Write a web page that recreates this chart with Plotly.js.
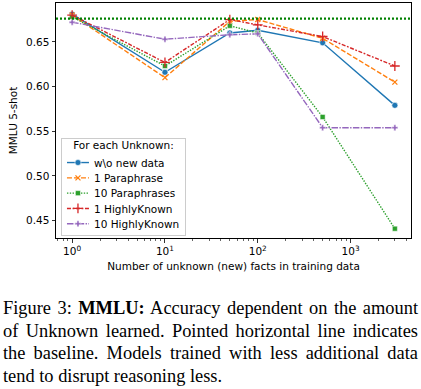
<!DOCTYPE html>
<html>
<head>
<meta charset="utf-8">
<script src="https://cdn.plot.ly/plotly-3.0.1.min.js"></script>
<style>
  html, body { margin: 0; padding: 0; background: #fff; }
  #wrap { position: relative; width: 421px; height: 389px; overflow: hidden; }
  #chart { position: absolute; left: 0; top: 0; width: 421px; height: 285px; }
  #caption { position: absolute; left: 3px; top: 297px; width: 415px;
    font-family: "Liberation Serif", "Times New Roman", serif; font-size: 18.4px;
    line-height: 22.5px; color: #000; }
  #caption div { text-align: justify; text-align-last: justify; white-space: nowrap; }
  #caption div.last { text-align: left; text-align-last: left; }
</style>
</head>
<body>
<div id="wrap">
  <div id="chart"></div>
  <div id="caption">
    <div>Figure 3: <b>MMLU:</b> Accuracy dependent on the amount</div>
    <div>of Unknown learned. Pointed horizontal line indicates</div>
    <div>the baseline. Models trained with less additional data</div>
    <div class="last">tend to disrupt reasoning less.</div>
  </div>
</div>
<script>
// ---- data ----
const unknownCounts = [1, 10, 50, 100, 500, 3000];
const seriesNames = ["w\\o new data", "1 Paraphrase", "10 Paraphrases", "1 HighlyKnown", "10 HighlyKnown"];
const woNewData      = [0.681, 0.616, 0.660, 0.663, 0.649, 0.579];
const oneParaphrase  = [0.680, 0.610, 0.673, 0.675, 0.654, 0.605];
const tenParaphrases = [0.678, 0.623, 0.668, 0.660, 0.566, 0.441];
const oneHighlyKnown = [0.680, 0.627, 0.675, 0.669, 0.656, 0.623];
const tenHighlyKnown = [0.672, 0.653, 0.658, 0.659, 0.554, 0.554];
const baselineMMLU = 0.676;
const legendTitle = "For each Unknown:";
const xTitle = "Number of unknown (new) facts in training data";
const yTitle = "MMLU 5-shot";
const xTickVals = [1, 10, 100, 1000];
const xTickText = ["10<sup>0</sup>", "10<sup>1</sup>", "10<sup>2</sup>", "10<sup>3</sup>"];
const yTickVals = [0.45, 0.50, 0.55, 0.60, 0.65];

// ---- styles ----
const colors = ["#1f77b4", "#ff7f0e", "#2ca02c", "#d62728", "#9467bd"];
const dashes = ["solid", "5px,2px", "1.4px,1.4px", "4px,1.6px,1.8px,1.6px", "6.5px,1.4px,1.4px,1.4px"];
const values = [woNewData, oneParaphrase, tenParaphrases, oneHighlyKnown, tenHighlyKnown];
const markers = [
  {symbol: "circle", size: 6, color: colors[0], line: {color: "#fff", width: 0.6}},
  {symbol: "x-thin", size: 5, color: colors[1], line: {color: colors[1], width: 1.3}},
  {symbol: "square", size: 5, color: colors[2], line: {color: "#fff", width: 0.5}},
  {symbol: "cross-thin", size: 7, color: colors[3], line: {color: colors[3], width: 1.3}},
  {symbol: "cross", size: 5, color: colors[4], line: {color: "#fff", width: 0.5}}
];

const traces = values.map((v, i) => ({
  x: unknownCounts, y: v, name: seriesNames[i], type: "scatter", mode: "lines+markers",
  line: {color: colors[i], width: 1.4, dash: dashes[i]},
  marker: markers[i]
}));

const minorVals = [];
for (let e = -1; e <= 3; e++) for (let m = 2; m <= 9; m++) minorVals.push(m * Math.pow(10, e));

const fontAx = {family: "DejaVu Sans", size: 10.5, color: "#000"};
const layout = {
  width: 421, height: 285,
  margin: {l: 56, r: 10, t: 3, b: 47},
  paper_bgcolor: "#fff", plot_bgcolor: "#fff",
  showlegend: true,
  font: fontAx,
  xaxis: {
    type: "log", range: [-0.174, 3.651], automargin: false,
    tickvals: xTickVals, ticktext: xTickText, ticks: "outside", ticklen: 3.5, tickwidth: 0.8, tickcolor: "#000",
    showline: true, linecolor: "#000", linewidth: 1, mirror: true, showgrid: false, zeroline: false,
    minor: {tickvals: minorVals, ticks: "outside", ticklen: 2, tickwidth: 0.6, tickcolor: "#000", showgrid: false},
    tickfont: fontAx,
    title: {text: xTitle, font: fontAx, standoff: 6}
  },
  yaxis: {
    range: [0.4306, 0.6935], automargin: false,
    tickvals: yTickVals, tickformat: ".2f", ticks: "outside", ticklen: 3.5, tickwidth: 0.8, tickcolor: "#000",
    showline: true, linecolor: "#000", linewidth: 1, mirror: true, showgrid: false, zeroline: false,
    tickfont: fontAx,
    title: {text: yTitle, font: fontAx, standoff: 6}
  },
  legend: {
    x: 0.014, y: 0.023, xanchor: "left", yanchor: "bottom",
    bgcolor: "rgba(255,255,255,0.8)", bordercolor: "#cccccc", borderwidth: 1,
    font: fontAx, tracegroupgap: 0, itemwidth: 30,
    title: {text: legendTitle, side: "top center", font: fontAx}
  },
  shapes: [{
    type: "line", xref: "paper", x0: 0, x1: 1, yref: "y", y0: baselineMMLU, y1: baselineMMLU,
    line: {color: "#008000", width: 2.2, dash: "2px,2px"}, layer: "above"
  }]
};

function getT(el) {
  const t = el.getAttribute("transform") || "";
  const m = t.match(/translate\(\s*([-\d.e]+)[ ,]+([-\d.e]+)\s*\)/);
  return m ? {x: parseFloat(m[1]), y: parseFloat(m[2])} : null;
}

// tighten the legend to matplotlib-like spacing
function compactLegend() {
  const leg = document.querySelector("#chart g.legend");
  if (!leg) return;
  const items = Array.from(leg.querySelectorAll("g.traces"));
  if (items.length < 2) return;
  const pos = items.map(getT);
  if (pos.some(p => !p)) return;
  const oldStep = pos[1].y - pos[0].y;
  const step = 15.3, lift = 4, shrinkW = 8;
  const moveDown = 7.7, extraShrinkH = 4, titleRel = -3.7, itemsRel = -0.7;
  const startY = pos[0].y - lift + itemsRel;
  items.forEach((g, i) => {
    g.setAttribute("transform", `translate(${pos[i].x},${startY + i * step})`);
    const txt = g.querySelector("text.legendtext");
    if (txt && txt.getAttribute("x")) txt.setAttribute("x", parseFloat(txt.getAttribute("x")) - shrinkW);
    g.querySelectorAll(".legendlines path").forEach(p => {
      const d = p.getAttribute("d");
      if (d) p.setAttribute("d", d.replace(/h30/, "h22"));
    });
    g.querySelectorAll(".legendpoints path").forEach(p => {
      const t = getT(p);
      if (t) p.setAttribute("transform", `translate(${t.x - 4},${t.y})`);
    });
  });
  const reduce = lift + (items.length - 1) * (oldStep - step);
  const bg = leg.querySelector("rect.bg");
  if (bg) {
    bg.setAttribute("height", parseFloat(bg.getAttribute("height")) - reduce - extraShrinkH);
    bg.setAttribute("width", parseFloat(bg.getAttribute("width")) - shrinkW);
  }
  const title = leg.querySelector("text.legendtitletext");
  if (title) {
    if (title.getAttribute("x")) title.setAttribute("x", parseFloat(title.getAttribute("x")) - shrinkW / 2);
    const prev = title.getAttribute("transform") || "";
    title.setAttribute("transform", `translate(0,${titleRel}) ${prev}`);
  }
  const lt = getT(leg);
  if (lt) leg.setAttribute("transform", `translate(${lt.x},${lt.y + reduce + moveDown - 3.7 - extraShrinkH + 3.7 + extraShrinkH - 3.7 + 3.7})`);
}

Plotly.newPlot("chart", traces, layout, {displayModeBar: false, staticPlot: true}).then(compactLegend);
</script>
</body>
</html>
